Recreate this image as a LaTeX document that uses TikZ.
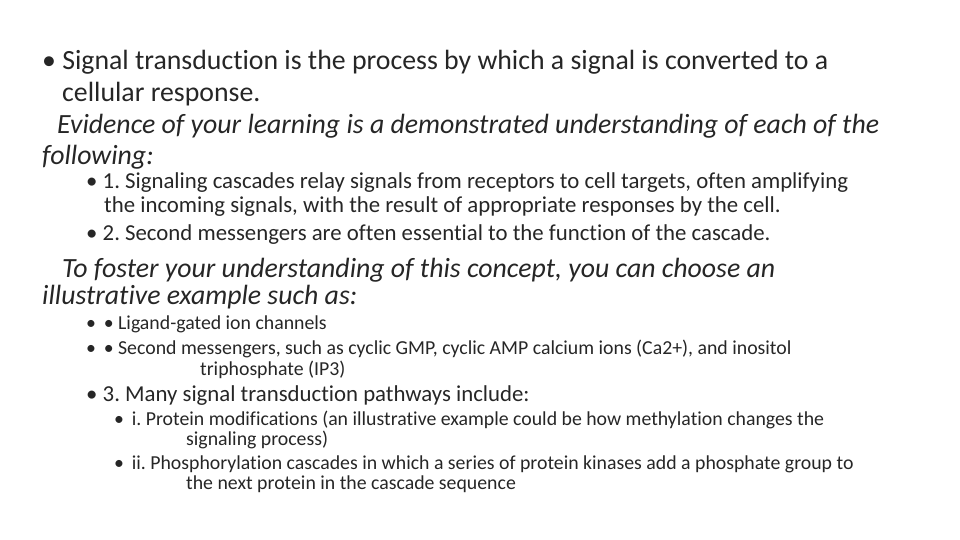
\documentclass[tikz,border=0pt]{standalone}
\usepackage{fontspec}
\setmainfont[Ligatures=CommonOff]{Carlito}
\frenchspacing
\usetikzlibrary{positioning}
\tikzset{
  line/.style={anchor=west,inner sep=0pt,text=black!85},
  big/.style={line,font=\fontsize{27.8}{30}\selectfont},
  mid/.style={line,font=\fontsize{22.8}{26}\selectfont},
  small/.style={line,font=\fontsize{19.8}{22}\selectfont}
}
\begin{document}
\begin{tikzpicture}[x=1pt,y=-1pt]
  \useasboundingbox (0,0) rectangle (960,540);
  % opening statement
  \node[big] (intro1) at (42,62) {• Signal transduction is the process by which a signal is converted to a};
  \node[big] (intro2) at (62,94) {cellular response.};
  \node[big] (evid1) at (57,126) {\itshape Evidence of your learning is a demonstrated understanding of each of the};
  \node[big] (evid2) at (42,157) {\itshape following:};
  % points 1 and 2
  \node[mid] (one1) at (86,183) {• 1. Signaling cascades relay signals from receptors to cell targets, often amplifying};
  \node[mid] (one2) at (104,207) {the incoming signals, with the result of appropriate responses by the cell.};
  \node[mid] (two) at (86,235) {• 2. Second messengers are often essential to the function of the cascade.};
  \node[big] (fost1) at (62,270) {\itshape To foster your understanding of this concept, you can choose an};
  \node[big] (fost2) at (42,297) {\itshape illustrative example such as:};
  % examples
  \node[small] (ex1) at (86,324) {• \,• Ligand-gated ion channels};
  \node[small] (ex2) at (86,349) {• \,• Second messengers, such as cyclic GMP, cyclic AMP calcium ions (Ca2+), and inositol};
  \node[small] (ex3) at (200,370) {triphosphate (IP3)};
  % point 3
  \node[mid] (three) at (86,396) {• 3. Many signal transduction pathways include:};
  \node[small] (pi1) at (114,420) {• \,i. Protein modifications (an illustrative example could be how methylation changes the};
  \node[small] (pi2) at (186,440) {signaling process)};
  \node[small] (pii1) at (114,464) {• \,ii. Phosphorylation cascades in which a series of protein kinases add a phosphate group to};
  \node[small] (pii2) at (186,484) {the next protein in the cascade sequence};
\end{tikzpicture}
\end{document}
